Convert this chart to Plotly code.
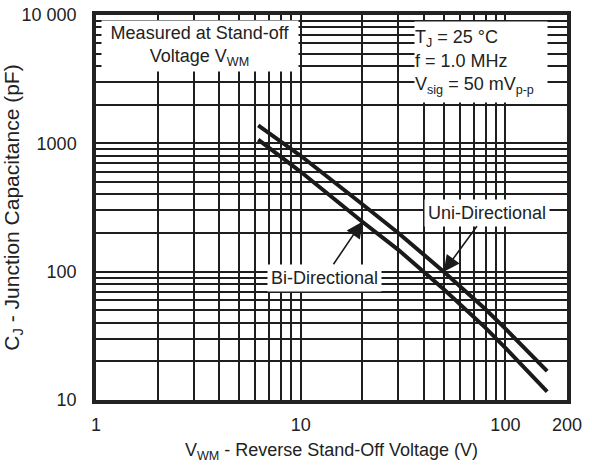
import plotly.graph_objects as go
import math

# ---- data ----
voltage = [6.2, 10, 20, 30, 50, 80, 100, 130, 160]
uni_cap = [1380, 800, 335, 200, 100, 51, 36, 23.5, 16.8]
bi_cap = [1070, 600, 245, 148, 73, 36.5, 25.5, 16.5, 11.6]

x_tickvals = [1, 2, 3, 4, 5, 6, 7, 8, 9, 10, 20, 30, 40, 50, 60, 70, 80, 90, 100, 200]
x_ticklabels = {1: "1", 10: "10", 100: "100", 200: "200"}
y_tickvals = [10, 20, 30, 40, 50, 60, 70, 80, 90, 100, 200, 300, 400, 500, 600, 700, 800, 900,
              1000, 2000, 3000, 4000, 5000, 6000, 7000, 8000, 9000, 10000]
y_ticklabels = {10: "10", 100: "100", 1000: "1000", 10000: "10 000"}

FONT = "Liberation Sans, Arial, sans-serif"
TXT = "#222222"
GRID = "#1e1e1e"

fig = go.Figure()
fig.add_trace(go.Scatter(x=voltage, y=uni_cap, mode="lines",
                         line=dict(color="#1a1a1a", width=4), name="Uni-Directional",
                         showlegend=False))
fig.add_trace(go.Scatter(x=voltage, y=bi_cap, mode="lines",
                         line=dict(color="#1a1a1a", width=4), name="Bi-Directional",
                         showlegend=False))

axis_common = dict(
    type="log", showgrid=True, gridcolor=GRID, gridwidth=2,
    showline=True, linecolor="#222222", linewidth=3.5, mirror=True,
    ticks="", zeroline=False, tickfont=dict(family=FONT, size=18, color=TXT),
    tickmode="array", automargin=False,
)

fig.update_xaxes(**axis_common, range=[0, math.log10(200)],
                 tickvals=x_tickvals,
                 ticktext=[x_ticklabels.get(v, "") for v in x_tickvals],
                 ticklabelstandoff=6,
                 title=dict(text="V<sub>WM</sub> - Reverse Stand-Off Voltage (V)",
                            font=dict(family=FONT, size=18, color=TXT), standoff=10))
fig.update_yaxes(**axis_common, range=[1, 4],
                 tickvals=y_tickvals,
                 ticktext=[y_ticklabels.get(v, "") for v in y_tickvals],
                 ticklabelstandoff=12,
                 title=dict(text="C<sub>J</sub> - Junction Capacitance (pF)",
                            font=dict(family=FONT, size=21, color=TXT), standoff=0))

annfont = dict(family=FONT, size=18, color=TXT)
annotations = [
    dict(text="Measured at Stand-off<br>Voltage V<sub>WM</sub>", xref="paper", yref="paper",
         x=0.221, y=0.920, xanchor="center", yanchor="middle", showarrow=False,
         bgcolor="white", width=196, height=50,
         align="center", font=annfont, borderpad=0),
    dict(text="T<sub>J</sub> = 25 °C<br>f = 1.0 MHz<br>V<sub>sig</sub> = 50 mV<sub>p-p</sub>",
         xref="paper", yref="paper", x=0.817, y=0.878, xanchor="center", yanchor="middle",
         showarrow=False, bgcolor="white",
         width=132, height=80, align="left", font=annfont, borderpad=0),
    dict(text="Uni-Directional", x=math.log10(voltage[4]), y=math.log10(uni_cap[4]),
         xref="x", yref="y", ax=43, ay=-59, showarrow=True, arrowhead=2, arrowsize=2,
         arrowwidth=1.6, arrowcolor="#1a1a1a", bgcolor="white", font=annfont, borderpad=3),
    dict(text="Bi-Directional", x=math.log10(voltage[2]), y=math.log10(bi_cap[2]),
         xref="x", yref="y", ax=-38, ay=56, showarrow=True, arrowhead=2, arrowsize=2,
         arrowwidth=1.6, arrowcolor="#1a1a1a", bgcolor="white", font=annfont, borderpad=3),
]
fig.update_layout(
    width=592, height=466, margin=dict(l=96, r=25, t=15, b=66, autoexpand=False),
    paper_bgcolor="white", plot_bgcolor="white",
    annotations=annotations, font=dict(family=FONT, color=TXT),
)

fig.write_html("out.html")
